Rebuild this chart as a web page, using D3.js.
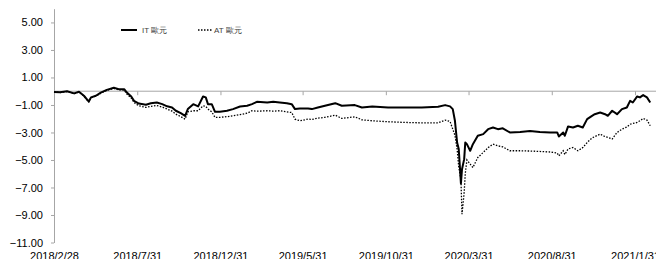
<!DOCTYPE html>
<html lang="en">
<head>
  <meta charset="utf-8">
  <script src="https://d3js.org/d3.v7.min.js"></script>
  <style>
    body { margin: 0; background: #fff; }
    svg { display: block; font-family: "Liberation Sans", Arial, sans-serif; }
    .axis text { fill: #000; font-size: 11px; }
    .axis path, .axis line { stroke: #a6a6a6; }
    .legend text { fill: #404040; font-size: 8px; }
  </style>
</head>
<body>
<svg></svg>
<script>
// data
var dates = [
  "2018-02-28","2018-03-11","2018-03-24","2018-04-06","2018-04-15","2018-04-24","2018-05-03","2018-05-07",
  "2018-05-16","2018-05-25","2018-06-05","2018-06-18","2018-06-27","2018-07-07","2018-07-12","2018-07-20",
  "2018-07-25","2018-08-03","2018-08-16","2018-08-25","2018-09-05","2018-09-15","2018-09-24","2018-10-03",
  "2018-10-10","2018-10-19","2018-10-27","2018-11-01","2018-11-11","2018-11-20","2018-11-29","2018-12-04",
  "2018-12-08","2018-12-15","2018-12-21","2018-12-30","2019-01-12","2019-01-23","2019-02-05","2019-02-18",
  "2019-02-27","2019-03-08","2019-03-27","2019-04-07","2019-04-19","2019-05-02","2019-05-11","2019-05-17",
  "2019-05-26","2019-06-10","2019-06-17","2019-06-28","2019-07-11","2019-07-30","2019-08-11","2019-09-04",
  "2019-09-17","2019-10-06","2019-11-04","2019-12-05","2020-01-05","2020-02-04","2020-02-17","2020-02-26",
  "2020-03-02","2020-03-06","2020-03-10","2020-03-13","2020-03-17","2020-03-19","2020-03-23","2020-03-25",
  "2020-03-28","2020-04-03","2020-04-08","2020-04-17","2020-04-27","2020-05-06","2020-05-15","2020-05-24",
  "2020-06-02","2020-06-15","2020-07-04","2020-07-22","2020-08-09","2020-08-28","2020-09-10","2020-09-13",
  "2020-09-21","2020-09-24","2020-09-30","2020-10-09","2020-10-18","2020-10-27","2020-11-04","2020-11-13",
  "2020-11-18","2020-11-28","2020-12-07","2020-12-12","2020-12-20","2020-12-29","2021-01-07","2021-01-16",
  "2021-01-22","2021-01-27","2021-02-04","2021-02-09","2021-02-15","2021-02-22","2021-02-28"
];

var itValues = [
  -0.05,-0.08,0.0,-0.16,-0.04,-0.33,-0.75,-0.45,
  -0.33,-0.1,0.1,0.25,0.15,0.15,-0.1,-0.38,
  -0.7,-0.9,-0.98,-0.87,-0.82,-0.94,-1.1,-1.18,
  -1.42,-1.6,-1.79,-1.3,-0.94,-1.1,-0.38,-0.45,
  -0.94,-0.94,-1.5,-1.5,-1.42,-1.3,-1.11,-1.06,
  -0.94,-0.77,-0.82,-0.77,-0.82,-0.87,-0.94,-1.3,
  -1.25,-1.25,-1.3,-1.18,-1.06,-0.87,-1.06,-1.01,
  -1.18,-1.11,-1.18,-1.18,-1.18,-1.13,-1.01,-1.1,
  -1.3,-2.15,-3.73,-4.2,-6.7,-5.67,-4.94,-3.73,
  -3.85,-4.33,-3.85,-3.24,-3.12,-2.76,-2.64,-2.76,
  -2.7,-3.0,-2.97,-2.9,-2.97,-3.0,-3.0,-3.29,
  -3.0,-3.24,-2.56,-2.64,-2.51,-2.64,-2.03,-1.79,
  -1.67,-1.55,-1.67,-1.79,-1.42,-1.67,-1.3,-1.18,
  -0.7,-0.82,-0.38,-0.45,-0.28,-0.45,-0.82
];

var atValues = [
  -0.05,-0.1,-0.02,-0.18,-0.06,-0.35,-0.78,-0.48,
  -0.36,-0.14,0.06,0.2,0.1,0.08,-0.2,-0.5,
  -0.82,-1.06,-1.18,-1.1,-1.04,-1.15,-1.3,-1.45,
  -1.67,-1.85,-2.03,-1.5,-1.42,-1.42,-1.06,-1.1,
  -1.3,-1.5,-1.9,-1.9,-1.85,-1.79,-1.7,-1.6,
  -1.42,-1.45,-1.42,-1.45,-1.42,-1.5,-1.55,-2.03,
  -2.15,-2.03,-2.05,-1.96,-1.9,-1.74,-1.98,-1.86,
  -2.08,-2.15,-2.22,-2.27,-2.3,-2.3,-2.1,-2.2,
  -2.76,-3.2,-4.2,-5.5,-6.4,-8.94,-7.36,-6.0,
  -5.0,-5.3,-5.55,-4.82,-4.45,-4.1,-3.85,-3.97,
  -4.05,-4.33,-4.33,-4.35,-4.38,-4.42,-4.5,-4.7,
  -4.33,-4.6,-4.2,-4.09,-4.33,-4.1,-3.73,-3.4,
  -3.3,-3.12,-3.3,-3.36,-3.48,-3.0,-2.76,-2.6,
  -2.4,-2.35,-2.27,-2.15,-1.98,-2.1,-2.51
];

var xTickLabels = ["2018/2/28","2018/7/31","2018/12/31","2019/5/31","2019/10/31","2020/3/31","2020/8/31","2021/1/31"];
var yTicks = [-11, -9, -7, -5, -3, -1, 1, 3, 5];
var seriesNames = ["IT 歐元", "AT 歐元"];

var width = 656, height = 259;
var parseDate = d3.timeParse("%Y-%m-%d");
var parseTick = d3.timeParse("%Y/%m/%d");

var rows = dates.map(function (d, i) {
  return { date: parseDate(d), it: itValues[i], at: atValues[i] };
});
var tickDates = xTickLabels.map(function (s) { return parseTick(s); });

var x = d3.scaleTime()
  .domain([tickDates[0], tickDates[tickDates.length - 1]])
  .range([54, 635]);

var y = d3.scaleLinear()
  .domain([-11, 6])
  .range([242.5, 8.7]);

var svg = d3.select('svg')
  .attr('width', width)
  .attr('height', height);

// y axis
svg.append('g')
  .attr('class', 'axis')
  .attr('transform', 'translate(54,0)')
  .call(d3.axisLeft(y).tickValues(yTicks).tickFormat(d3.format('.2f')).tickSize(3).tickPadding(8).tickSizeOuter(0));

// zero line with ticks
var zeroAxis = svg.append('g')
  .attr('class', 'axis')
  .attr('transform', 'translate(0,' + y(0) + ')')
  .call(d3.axisBottom(x).tickValues(tickDates).tickSize(4).tickFormat('').tickSizeOuter(0));
zeroAxis.select('.domain').attr('d', 'M54,0H656');

// bottom labels
var labelAxis = svg.append('g')
  .attr('class', 'axis')
  .attr('transform', 'translate(0,249)')
  .call(d3.axisBottom(x).tickValues(tickDates).tickSize(0).tickPadding(3)
    .tickFormat(function (d, i) { return xTickLabels[i]; }));
labelAxis.select('.domain').remove();

var lineIT = d3.line()
  .x(function (d) { return x(d.date); })
  .y(function (d) { return y(d.it); });

var lineAT = d3.line()
  .x(function (d) { return x(d.date); })
  .y(function (d) { return y(d.at); });

svg.append('path')
  .datum(rows)
  .attr('d', lineAT)
  .attr('fill', 'none')
  .attr('stroke', '#000')
  .attr('stroke-width', 1.3)
  .attr('stroke-dasharray', '1.5,1.5');

svg.append('path')
  .datum(rows)
  .attr('d', lineIT)
  .attr('fill', 'none')
  .attr('stroke', '#000')
  .attr('stroke-width', 2)
  .attr('stroke-linejoin', 'round');

// legend
var legend = svg.append('g').attr('class', 'legend');
legend.append('line')
  .attr('x1', 121).attr('x2', 137).attr('y1', 30).attr('y2', 30)
  .attr('stroke', '#000').attr('stroke-width', 2);
legend.append('text').attr('x', 142).attr('y', 33).text(seriesNames[0]);
legend.append('line')
  .attr('x1', 198).attr('x2', 212).attr('y1', 30).attr('y2', 30)
  .attr('stroke', '#000').attr('stroke-width', 1.3).attr('stroke-dasharray', '1.5,1.5');
legend.append('text').attr('x', 214).attr('y', 33).text(seriesNames[1]);
</script>
</body>
</html>
